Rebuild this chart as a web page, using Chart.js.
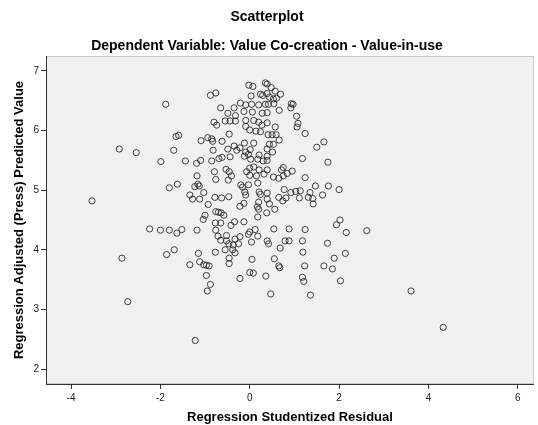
<!DOCTYPE html>
<html><head><meta charset="utf-8">
<script src="https://cdn.jsdelivr.net/npm/chart.js@4.4.1/dist/chart.umd.min.js"></script>
<style>html,body{margin:0;padding:0;background:#fff}canvas{display:block}</style>
</head><body>
<canvas id="c" width="538" height="425"></canvas>
<script>
const chartTitle = "Scatterplot";
const chartSubtitle = "Dependent Variable: Value Co-creation - Value-in-use";
const xAxisTitle = "Regression Studentized Residual";
const yAxisTitle = "Regression Adjusted (Press) Predicted Value";
const xTickValues = [-4, -2, 0, 2, 4, 6];
const yTickValues = [2, 3, 4, 5, 6, 7];

const xResidual = [
-3.53,-2.92,-2.54,-1.88,-1.65,-1.59,-1.70,-1.99,-1.44,-1.80,-1.62,-2.24,-2.00,-1.80,-1.63,-1.52,-1.86,-1.69,-2.86,-2.73,
-1.34,-1.34,-1.22,-0.02,0.07,0.35,0.39,-0.88,-0.76,0.03,0.24,0.29,0.39,-0.21,-0.09,0.04,0.20,0.35,-0.65,-0.35,
-0.13,0.06,0.28,0.39,-0.49,-0.32,-0.80,-0.74,-0.55,-0.44,-0.32,-0.09,0.09,0.20,0.39,-0.09,0.00,0.14,0.24,-0.46,
-0.94,-0.85,-0.83,-0.62,-1.09,-0.12,0.09,-0.82,-0.35,-0.22,-0.49,-0.09,0.01,0.21,0.39,-1.19,-1.10,-0.85,-0.69,-0.62,
-0.44,-0.29,-0.12,-0.03,0.02,0.18,0.39,-0.79,-0.53,-0.46,-0.41,-1.18,0.00,0.09,0.21,0.00,0.15,0.39,0.48,0.57,
0.69,0.44,0.53,0.60,0.42,0.54,0.93,0.97,0.66,0.92,1.05,1.08,1.06,0.27,0.57,1.24,0.41,0.50,0.59,0.44,
0.53,0.66,0.51,1.50,1.66,1.18,1.75,0.39,0.30,0.75,0.71,0.84,0.95,0.53,0.65,0.75,1.24,-0.76,-0.48,-0.07,
0.32,0.18,-1.16,-1.13,-1.23,-0.20,-0.16,-0.03,-1.28,-1.03,-1.12,-0.11,-0.09,0.21,0.24,0.39,0.39,-0.78,-0.63,-0.47,
-0.93,-0.22,-0.13,0.20,0.17,-0.76,-0.70,-0.64,-0.58,-1.00,-1.04,-0.77,-0.65,-0.42,-0.34,-0.13,0.20,0.18,0.38,-1.18,
-0.76,0.12,0.18,0.00,-0.03,-0.71,-0.52,-0.65,-0.52,-0.33,-0.22,-0.47,-0.37,-0.25,-0.55,-0.77,-0.38,-0.33,0.04,0.39,
0.42,-1.15,-1.12,-1.03,-0.97,-0.91,-0.46,-0.46,0.05,-0.97,-0.22,0.00,0.08,0.36,1.47,1.76,2.00,1.63,1.35,0.77,
0.92,1.03,1.13,0.65,0.74,0.81,1.11,1.31,1.41,1.42,0.44,0.56,0.54,0.88,1.24,2.02,1.94,2.16,0.79,0.88,
1.18,1.74,0.68,1.19,2.14,0.55,1.89,0.65,0.67,1.23,1.66,1.85,1.18,1.21,2.03,-0.88,-0.95,0.47,1.36,2.62,
3.61,4.33
];
const yPredicted = [
4.82,5.69,5.63,6.44,5.90,5.92,5.67,5.48,5.49,5.04,5.10,4.35,4.33,4.33,4.28,4.34,3.92,4.00,3.86,3.13,
4.92,3.75,2.48,6.76,6.74,6.80,6.78,6.59,6.63,6.58,6.61,6.59,6.62,6.46,6.43,6.44,6.43,6.44,6.38,6.38,
6.32,6.31,6.29,6.30,6.29,6.25,6.14,6.09,6.16,6.16,6.16,6.17,6.17,6.14,6.13,6.07,6.01,5.99,5.98,5.94,
5.88,5.86,5.82,5.82,5.83,5.79,5.79,5.67,5.74,5.71,5.69,5.64,5.68,5.59,5.69,5.45,5.50,5.49,5.53,5.55,
5.56,5.67,5.57,5.60,5.52,5.52,5.50,5.31,5.35,5.31,5.24,5.24,5.37,5.39,5.34,5.25,5.24,5.34,6.72,6.66,
6.61,6.56,6.53,6.54,6.44,6.45,6.45,6.44,6.34,6.38,6.24,6.12,6.06,6.09,6.06,5.95,5.93,5.93,5.93,5.77,
5.77,5.84,5.64,5.72,5.81,5.53,5.47,5.57,5.49,5.38,5.34,5.28,5.32,5.22,5.20,5.24,5.21,5.18,5.17,5.31,
5.27,5.12,5.10,5.07,5.06,5.09,5.05,5.09,4.85,4.96,4.85,4.97,4.92,4.97,4.93,4.95,4.85,4.88,4.87,4.89,
4.76,4.73,4.78,4.80,4.72,4.64,4.63,4.62,4.58,4.58,4.51,4.45,4.45,4.41,4.47,4.47,4.68,4.55,4.62,4.33,
4.33,4.34,4.23,4.30,4.26,4.23,4.24,4.16,4.15,4.18,4.22,4.10,4.08,4.10,4.00,3.96,4.00,3.95,4.13,4.15,
4.10,3.94,3.80,3.75,3.74,3.73,3.86,3.77,3.84,3.57,3.52,3.62,3.61,3.56,5.07,5.07,5.01,4.92,4.96,5.01,
4.96,4.98,4.99,4.88,4.82,4.87,4.87,4.88,4.86,4.77,4.77,4.68,4.35,4.35,4.34,4.50,4.42,4.29,4.15,4.15,
4.15,4.11,4.03,3.96,3.94,3.85,3.86,3.73,3.70,3.73,3.73,3.68,3.54,3.47,3.48,3.42,3.31,3.26,3.24,4.32,
3.31,2.70
];

const xRange = [-4.56, 6.36];
const yRange = [1.75, 7.25];

const FONT = "'Liberation Sans', Arial, Helvetica, sans-serif";

const points = xResidual.map((x, i) => ({ x: x, y: yPredicted[i] }));

const plotBackground = {
  id: 'plotBackground',
  beforeDraw(chart) {
    const { ctx, chartArea: a } = chart;
    ctx.save();
    ctx.fillStyle = '#f0f0f0';
    ctx.fillRect(a.left, a.top, a.right - a.left, a.bottom - a.top);
    ctx.strokeStyle = '#c8c8c8';
    ctx.lineWidth = 1;
    ctx.strokeRect(a.left + 0.5, a.top + 0.5, a.right - a.left - 1, a.bottom - a.top - 1);
    ctx.restore();
  }
};

new Chart(document.getElementById('c'), {
  type: 'scatter',
  data: {
    datasets: [{
      data: points,
      pointRadius: 3.1,
      pointHoverRadius: 3.1,
      pointBorderWidth: 1,
      borderColor: 'rgba(35,35,35,0.85)',
      backgroundColor: 'rgba(0,0,0,0)',
      pointBackgroundColor: 'rgba(0,0,0,0)'
    }]
  },
  options: {
    responsive: false,
    animation: false,
    layout: { padding: { left: 0, right: 4, top: 0, bottom: 0 } },
    plugins: {
      legend: { display: false },
      tooltip: { enabled: false },
      title: {
        display: true, text: chartTitle, color: '#000',
        font: { family: FONT, size: 14, weight: 'bold' },
        padding: { top: 9.1, bottom: 11 }
      },
      subtitle: {
        display: true, text: chartSubtitle, color: '#000',
        font: { family: FONT, size: 14, weight: 'bold' },
        padding: { top: 0.7, bottom: 1.6 }
      }
    },
    scales: {
      x: {
        type: 'linear', min: xRange[0], max: xRange[1],
        afterBuildTicks: s => { s.ticks = xTickValues.map(v => ({ value: v })); },
        afterFit: s => { s.height = 41; },
        grid: { drawOnChartArea: false, drawTicks: true, tickLength: 5, color: '#333' },
        border: { display: true, color: '#333', width: 1 },
        ticks: { padding: 3, color: '#222', maxRotation: 0, font: { family: FONT, size: 10 } },
        title: { display: true, text: xAxisTitle, color: '#000', font: { family: FONT, size: 13, weight: 'bold' }, padding: { top: 0, bottom: 0 } }
      },
      y: {
        type: 'linear', min: yRange[0], max: yRange[1],
        afterBuildTicks: s => { s.ticks = yTickValues.map(v => ({ value: v })); },
        afterFit: s => { s.width = 46; },
        grid: { drawOnChartArea: false, drawTicks: true, tickLength: 5, color: '#333' },
        border: { display: true, color: '#333', width: 1 },
        ticks: { padding: 2, color: '#222', font: { family: FONT, size: 10 } },
        title: { display: true, text: yAxisTitle, color: '#000', font: { family: FONT, size: 13, weight: 'bold' }, padding: { top: 11.2, bottom: 0 } }
      }
    }
  },
  plugins: [plotBackground]
});
</script>
</body></html>
